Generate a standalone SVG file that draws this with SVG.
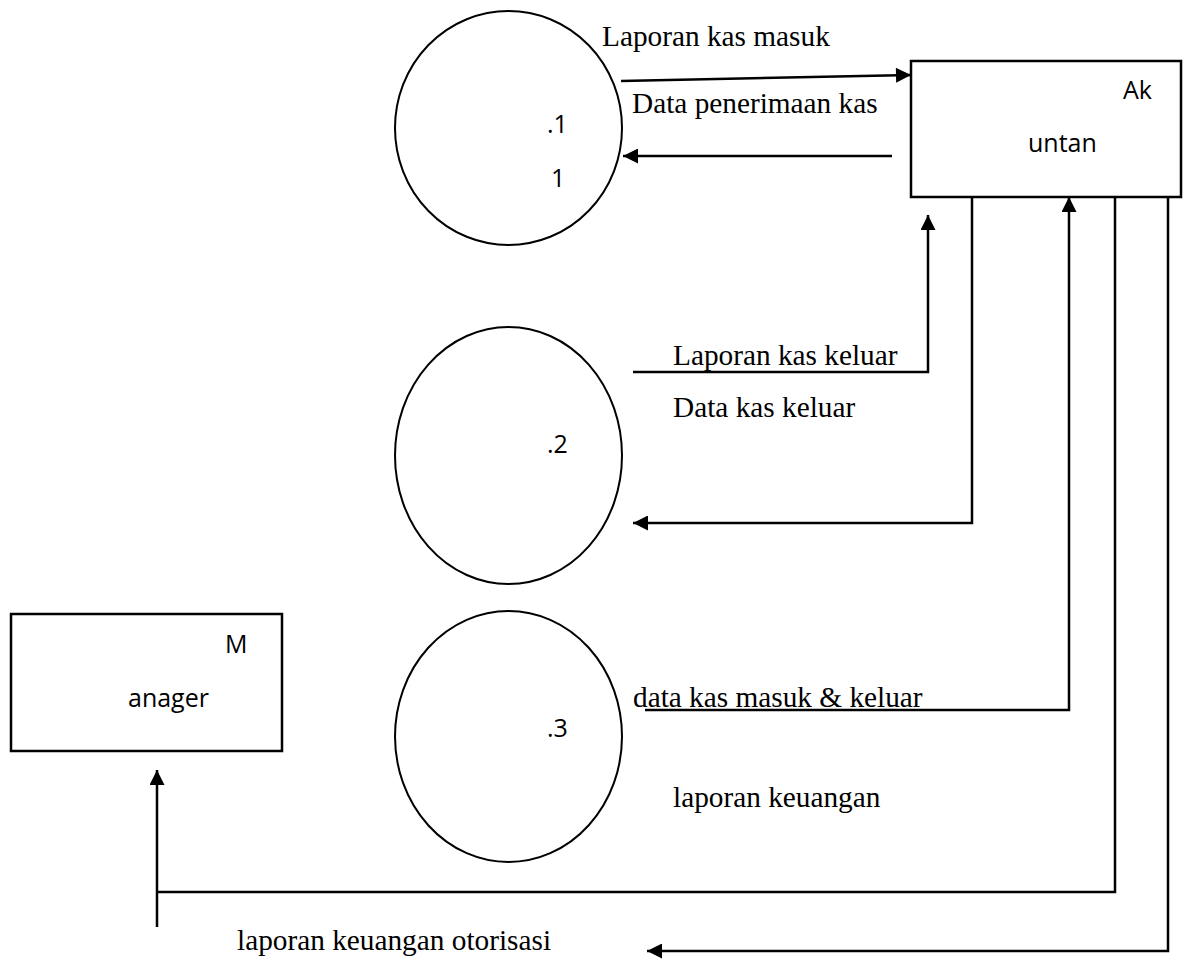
<svg xmlns="http://www.w3.org/2000/svg" width="1185" height="968" viewBox="0 0 1185 968">
<defs>
<style>
.proc{fill:none;stroke:#000;stroke-width:2}
.ent{fill:none;stroke:#000;stroke-width:2.5}
.lbl{font-family:"Open Sans","Noto Sans",sans-serif;font-size:25px;fill:#000}
.flow{font-family:"Liberation Serif","Times New Roman",serif;font-size:29.3px;fill:#000}
.ln{fill:none;stroke:#000;stroke-width:2.5}
</style>
<marker id="ah" viewBox="0 0 10 10" refX="10" refY="5" markerWidth="17" markerHeight="15" markerUnits="userSpaceOnUse" orient="auto">
<path d="M0,0 L10,5 L0,10 Z" fill="#000"/>
</marker>
</defs>
<rect width="1185" height="968" fill="#fff"/>
<g id="p1">
<ellipse class="proc" cx="508.5" cy="128" rx="113.5" ry="117"/>
<text class="lbl" x="547" y="133">.1</text>
<text class="lbl" x="551" y="187">1</text>
</g>
<g id="p2">
<ellipse class="proc" cx="508.5" cy="455.5" rx="113.5" ry="128.5"/>
<text class="lbl" x="547" y="453">.2</text>
</g>
<g id="p3">
<ellipse class="proc" cx="508.5" cy="736.5" rx="113.5" ry="125.5"/>
<text class="lbl" x="547" y="737">.3</text>
</g>
<g id="akuntan">
<rect class="ent" x="911" y="61" width="270" height="136"/>
<text class="lbl" x="1123" y="99">Ak</text>
<text class="lbl" x="1028" y="152">untan</text>
</g>
<g id="manager">
<rect class="ent" x="11" y="614" width="271" height="137"/>
<text class="lbl" x="225" y="653">M</text>
<text class="lbl" x="128" y="707">anager</text>
</g>
<g id="connectors">
<line class="ln" x1="621" y1="81" x2="911" y2="75" marker-end="url(#ah)"/>
<line class="ln" x1="892" y1="156" x2="623" y2="156" marker-end="url(#ah)"/>
<polyline class="ln" points="633,372 928,372 928,215" marker-end="url(#ah)"/>
<polyline class="ln" points="972,197 972,523 633,523" marker-end="url(#ah)"/>
<polyline class="ln" points="645,710 1069,710 1069,197" marker-end="url(#ah)"/>
<polyline class="ln" points="1115,197 1115,892 157,892"/>
<line class="ln" x1="157" y1="927" x2="157" y2="770" marker-end="url(#ah)"/>
<polyline class="ln" points="1168,197 1168,951 647,951" marker-end="url(#ah)"/>
</g>
<g id="labels">
<text class="flow" x="602" y="46">Laporan kas masuk</text>
<text class="flow" x="632" y="113">Data penerimaan kas</text>
<text class="flow" x="673" y="365">Laporan kas keluar</text>
<text class="flow" x="673" y="417">Data kas keluar</text>
<text class="flow" x="633" y="707">data kas masuk &amp; keluar</text>
<text class="flow" x="673" y="807">laporan keuangan</text>
<text class="flow" x="237" y="950">laporan keuangan otorisasi</text>
</g>
</svg>
